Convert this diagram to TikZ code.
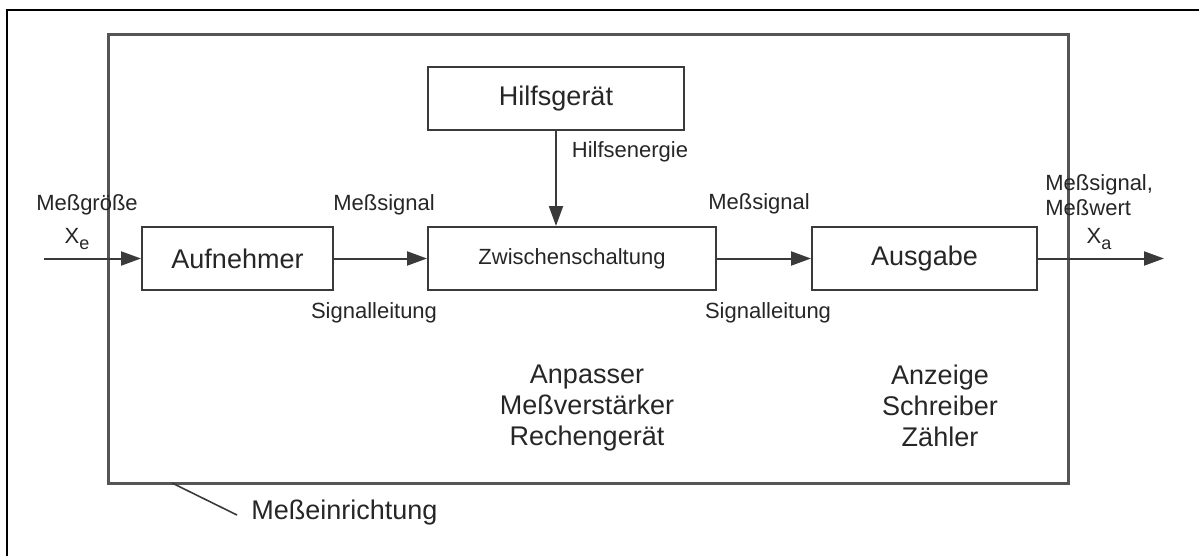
\documentclass[tikz,border=0pt]{standalone}
\usepackage{fontspec}
\setmainfont{Liberation Sans}
\usetikzlibrary{arrows.meta}
\definecolor{frameGrey}{HTML}{555555}
\definecolor{boxGrey}{HTML}{3A3A3A}
\definecolor{textGrey}{HTML}{262626}
\newcommand{\lowsub}[1]{\raisebox{-0.55ex}{\fontsize{9}{10}\selectfont #1}}

\begin{document}
\begin{tikzpicture}[x=0.5pt,y=-0.5pt,
    block/.style={draw=boxGrey,line width=1pt,inner sep=0pt,text=textGrey,
      minimum height=31.5pt,font=\fontsize{13.5}{16}\selectfont},
    lbl/.style={inner sep=0pt,text=textGrey,font=\fontsize{11}{12.5}\selectfont},
    big/.style={inner sep=0pt,text=textGrey,align=center,
      font=\fontsize{13.5}{15.5}\selectfont},
    sig/.style={draw=boxGrey,line width=1pt,-{Triangle[length=10pt,width=7pt]}}]
    \useasboundingbox (0,0) rectangle (1199,556);

    % outer frame (cut off at right and bottom)
    \draw[line width=1.2pt] (7,556) -- (7,10) -- (1199,10);
    % Messeinrichtung
    \draw[frameGrey,line width=1.5pt] (108,35) rectangle (1068,483);

    \node[block,minimum width=128pt] (hilf) at (556,99) {Hilfsger\"at};
    \node[block,minimum width=95.5pt] (auf) at (237.5,258.5) {Aufnehmer};
    \node[block,minimum width=144pt,font=\fontsize{11}{12.5}\selectfont] (zw) at (572,258.5) {Zwischenschaltung};
    \node[block,minimum width=112.5pt] (aus) at (924.5,258.5) {Ausgabe};

    \coordinate (in) at (44,258.5);
    \coordinate (out) at (1164,258.5);

    \draw[sig] (in) -- (auf);
    \draw[sig] (auf) -- (zw);
    \draw[sig] (zw) -- (aus);
    \draw[sig] (aus) -- (out);
    \draw[sig] (hilf.south) -- (hilf.south |- zw.north);

    \node[lbl] (mgr) at (87,205) {Me\ss gr\"o\ss e};
    \node[lbl] (xe) at (77,239) {X\lowsub{e}};
    \node[lbl] (ms1) at (384,205) {Me\ss signal};
    \node[lbl] (sl1) at (374,313) {Signalleitung};
    \node[lbl] (he) at (630,152) {Hilfsenergie};
    \node[lbl] (ms2) at (759,204) {Me\ss signal};
    \node[lbl] (sl2) at (768,313) {Signalleitung};
    \node[lbl,anchor=west,align=left] (mw) at (1045,195) {Me\ss signal,\\Me\ss wert};
    \node[lbl] (xa) at (1099,239) {X\lowsub{a}};

    \node[big] (anp) at (587,408) {Anpasser\\Me\ss verst\"arker\\Rechenger\"at};
    \node[big] (anz) at (940,406) {Anzeige\\Schreiber\\Z\"ahler};

    \coordinate (tick) at (172,483);
    \node[big,anchor=west] (me) at (251,513) {Me\ss einrichtung};
    \draw[boxGrey,line width=0.8pt] (tick) -- (237,515);
\end{tikzpicture}
\end{document}
